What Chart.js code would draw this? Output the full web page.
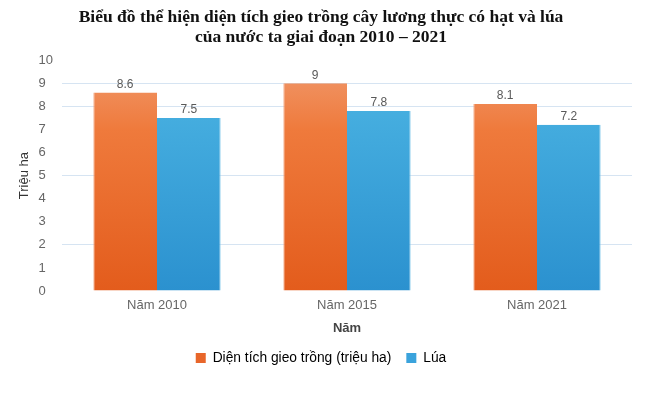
<!DOCTYPE html>
<html>
<head>
<meta charset="utf-8">
<script src="https://cdn.jsdelivr.net/npm/chart.js@4/dist/chart.umd.min.js"></script>
<style>
html,body{margin:0;padding:0;background:#fff;}
#wrap{position:relative;width:649px;height:404px;}
</style>
</head>
<body>
<div id="wrap"><canvas id="c" width="649" height="404"></canvas></div>
<script>
const categories = ["Năm 2010", "Năm 2015", "Năm 2021"];
const seriesNames = ["Diện tích gieo trồng (triệu ha)", "Lúa"];
const grainArea = [8.6, 9, 8.1];
const riceArea = [7.5, 7.8, 7.2];
const yTicks = [0, 1, 2, 3, 4, 5, 6, 7, 8, 9, 10];
const titleLines = ["Biểu đồ thể hiện diện tích gieo trồng cây lương thực có hạt và lúa", "của nước ta giai đoạn 2010 – 2021"];

function orangeFill(c) {
  const ch = c.chart;
  if (!ch.chartArea) return '#EC6B2A';
  const el = c.element;
  const y0 = el && el.y !== undefined ? el.y : ch.chartArea.top;
  const g = ch.ctx.createLinearGradient(0, y0, 0, ch.chartArea.bottom);
  g.addColorStop(0, '#F09A6E');
  g.addColorStop(0.3, '#EF7A3C');
  g.addColorStop(1, '#E35C1C');
  return g;
}
function blueFill(c) {
  const ch = c.chart;
  if (!ch.chartArea) return '#3BA3DC';
  const el = c.element;
  const y0 = el && el.y !== undefined ? el.y : ch.chartArea.top;
  const g = ch.ctx.createLinearGradient(0, y0, 0, ch.chartArea.bottom);
  g.addColorStop(0, '#4DB6E4');
  g.addColorStop(1, '#2B91CF');
  return g;
}

const valueLabels = {
  id: 'valueLabels',
  afterDatasetsDraw(chart) {
    const ctx = chart.ctx;
    ctx.save();
    ctx.font = '12px "Liberation Sans", Arial, sans-serif';
    ctx.fillStyle = '#595959';
    ctx.textAlign = 'center';
    ctx.textBaseline = 'bottom';
    chart.data.datasets.forEach((ds, i) => {
      const meta = chart.getDatasetMeta(i);
      meta.data.forEach((bar, j) => {
        ctx.fillText(String(ds.data[j]), bar.x, bar.y - 2);
      });
    });
    ctx.restore();
  }
};

const shownGrid = [2, 5, 8, 9];

new Chart(document.getElementById('c'), {
  type: 'bar',
  data: {
    labels: categories,
    datasets: [
      { label: seriesNames[0], data: grainArea, backgroundColor: orangeFill, borderColor: '#F2A07A', borderWidth: {left:1, right:0, top:0, bottom:0}, borderSkipped: false },
      { label: seriesNames[1], data: riceArea, backgroundColor: blueFill, borderColor: '#7CC6EA', borderWidth: {left:0, right:1, top:0, bottom:0}, borderSkipped: false }
    ]
  },
  options: {
    responsive: false,
    animation: false,
    devicePixelRatio: 1,
    layout: { padding: { left: 10, right: 17, top: 0, bottom: 29 } },
    datasets: { bar: { categoryPercentage: 0.67, barPercentage: 1.0 } },
    plugins: {
      title: {
        display: true,
        text: titleLines,
        color: '#111',
        font: { family: '"Liberation Serif", "Times New Roman", serif', size: 17.5, weight: 'bold', lineHeight: 1.15 },
        padding: { top: 7, bottom: 13 }
      },
      legend: {
        position: 'bottom',
        labels: {
          boxWidth: 10, boxHeight: 10,
          color: '#444',
          font: { family: '"Liberation Sans", Arial, sans-serif', size: 13.8 },
          padding: 15,
          generateLabels(chart) {
            return chart.data.datasets.map((ds, i) => ({
              text: ds.label,
              fillStyle: i === 0 ? '#E8662A' : '#3AA3DC',
              strokeStyle: i === 0 ? '#E8662A' : '#3AA3DC',
              lineWidth: 0,
              datasetIndex: i,
              hidden: false
            }));
          }
        }
      },
      tooltip: { enabled: false }
    },
    scales: {
      x: {
        grid: { display: false, drawTicks: false },
        border: { display: false },
        ticks: { color: '#666', font: { family: '"Liberation Sans", Arial, sans-serif', size: 13 }, padding: 7 },
        title: { display: true, text: 'Năm', color: '#444', font: { family: '"Liberation Sans", Arial, sans-serif', size: 13, weight: 'bold' }, padding: { top: 0, bottom: 0 } }
      },
      y: {
        min: 0, max: 10,
        afterBuildTicks(axis) { axis.ticks = yTicks.map(v => ({ value: v })); },
        afterFit(axis) { axis.width = 52; },
        grid: {
          drawTicks: false,
          color: (c) => shownGrid.includes(c.tick && c.tick.value) ? '#D6E4F2' : 'rgba(0,0,0,0)',
          lineWidth: 1
        },
        border: { display: false },
        ticks: {
          color: '#666',
          font: { family: '"Liberation Sans", Arial, sans-serif', size: 13 },
          padding: 9,
          callback: (v) => String(v).length < 2 ? String(v) + '\u2007' : String(v)
        },
        title: { display: true, text: 'Triệu ha', color: '#333', font: { family: '"Liberation Sans", Arial, sans-serif', size: 13 }, padding: { top: 7, bottom: 4 } }
      }
    }
  },
  plugins: [valueLabels]
});
</script>
</body>
</html>
